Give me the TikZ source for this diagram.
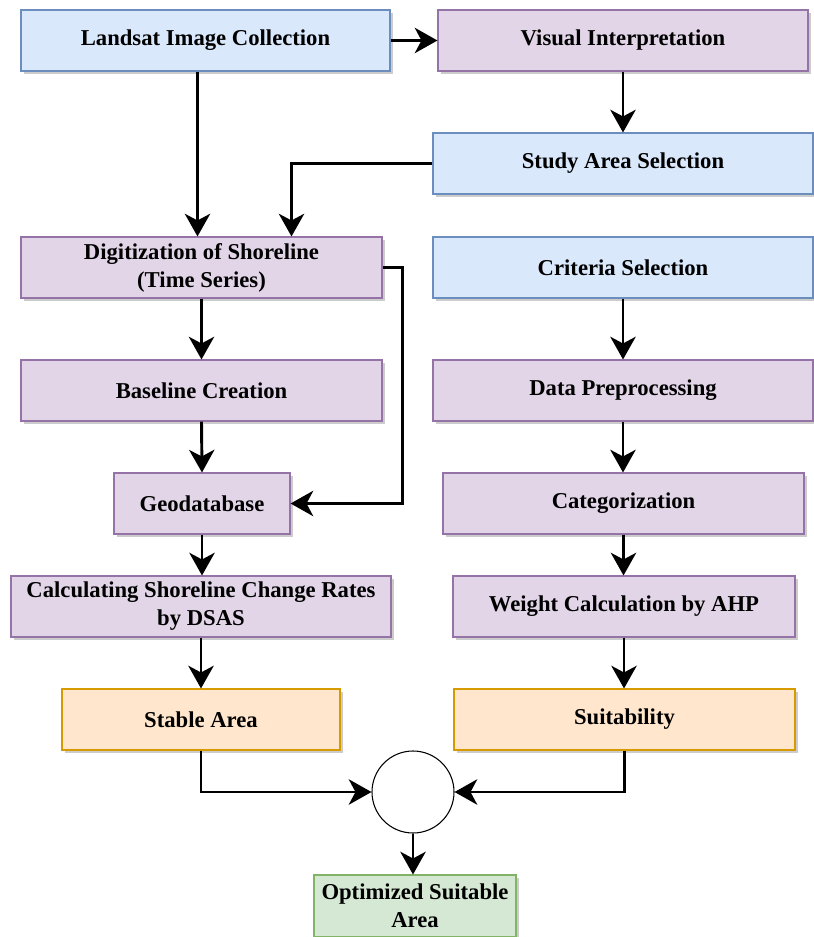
\documentclass[tikz,border=0pt]{standalone}
\usepackage{fontspec}
\setmainfont{Liberation Serif}
\usetikzlibrary{arrows.meta,shadows}

\definecolor{bluefill}{HTML}{DAE8FC}
\definecolor{blueline}{HTML}{6C8EBF}
\definecolor{purplefill}{HTML}{E1D5E7}
\definecolor{purpleline}{HTML}{9673A6}
\definecolor{orangefill}{HTML}{FFE6CC}
\definecolor{orangeline}{HTML}{D79B00}
\definecolor{greenfill}{HTML}{D5E8D4}
\definecolor{greenline}{HTML}{82B366}

\newcommand{\px}{0.75pt}

\tikzset{
	box/.style={draw, line width=0.8pt, minimum height=61*\px, align=center,
		font=\fontsize{17}{21}\selectfont\bfseries, inner sep=2pt,
		drop shadow={shadow xshift=2pt, shadow yshift=-2pt, opacity=0.2, fill=black}},
	bluebox/.style={box, fill=bluefill, draw=blueline},
	purplebox/.style={box, fill=purplefill, draw=purpleline},
	orangebox/.style={box, fill=orangefill, draw=orangeline},
	greenbox/.style={box, fill=greenfill, draw=greenline},
	arr/.style={-{Stealth[length=17pt, width=19pt, inset=5pt]}, line width=2.2pt},
}

\begin{document}
\begin{tikzpicture}[x=\px, y=-\px]
	\useasboundingbox (0,0) rectangle (813,937);

	% Upper boxes
	\node[bluebox, minimum width=369*\px] (land) at (205.5,40.5) {Landsat Image Collection};
	\node[purplebox, minimum width=370*\px] (visual) at (623,40.5) {Visual Interpretation};
	\node[bluebox, minimum width=380*\px] (study) at (623,163.5) {Study Area Selection};

	% Shoreline branch
	\node[purplebox, minimum width=361*\px] (digit) at (201.5,267.5) {Digitization of Shoreline\\(Time Series)};
	\node[purplebox, minimum width=361*\px] (base) at (201.5,390.5) {Baseline Creation};
	\node[purplebox, minimum width=176*\px] (geo) at (202,503.5) {Geodatabase};
	\node[purplebox, minimum width=380*\px] (calc) at (201,606.5) {Calculating Shoreline Change Rates\\by DSAS};
	\node[orangebox, minimum width=278*\px] (stable) at (201,719.5) {Stable Area};

	% Suitability branch
	\node[bluebox, minimum width=380*\px] (crit) at (623,267.5) {Criteria Selection};
	\node[purplebox, minimum width=380*\px] (prep) at (623,390.5) {Data Preprocessing};
	\node[purplebox, minimum width=361*\px] (cat) at (623.5,503.5) {Categorization};
	\node[purplebox, minimum width=342*\px] (weight) at (624,606.5) {Weight Calculation by AHP};
	\node[orangebox, minimum width=341*\px] (suit) at (624.5,719.5) {Suitability};

	% Overlay and result
	\node[draw, circle, fill=white, line width=0.8pt, minimum size=82*\px] (merge) at (413,792) {};
	\node[greenbox, minimum width=202*\px, minimum height=62*\px] (opt) at (415,906) {Optimized Suitable\\Area};

	% Draw the arrows
	\draw[arr] (land.east) -- (visual.west);
	\draw[arr] ([xshift=-8*\px]land.south) -- ([xshift=-8*\px]land.south |- digit.north);
	\draw[arr] (visual.south) -- (study.north);
	\draw[arr] (study.west) -| ([xshift=90*\px]digit.north);
	\draw[arr] (digit.east) -- ++(20,0) |- (geo.east);
	\draw[arr] (digit.south) -- (base.north);
	\draw[arr] (base.south) -- (geo.north);
	\draw[arr] (geo.south) -- (geo.south |- calc.north);
	\draw[arr] (calc.south) -- (stable.south |- stable.north);

	\draw[arr] (crit.south) -- (prep.north);
	\draw[arr] (prep.south) -- (prep.south |- cat.north);
	\draw[arr] (cat.south) -- (cat.south |- weight.north);
	\draw[arr] (weight.south) -- (weight.south |- suit.north);

	\draw[arr] (stable.south) |- (merge.west);
	\draw[arr] (suit.south) |- (merge.east);
	\draw[arr] (merge.south) -- (merge.south |- opt.north);
\end{tikzpicture}
\end{document}
